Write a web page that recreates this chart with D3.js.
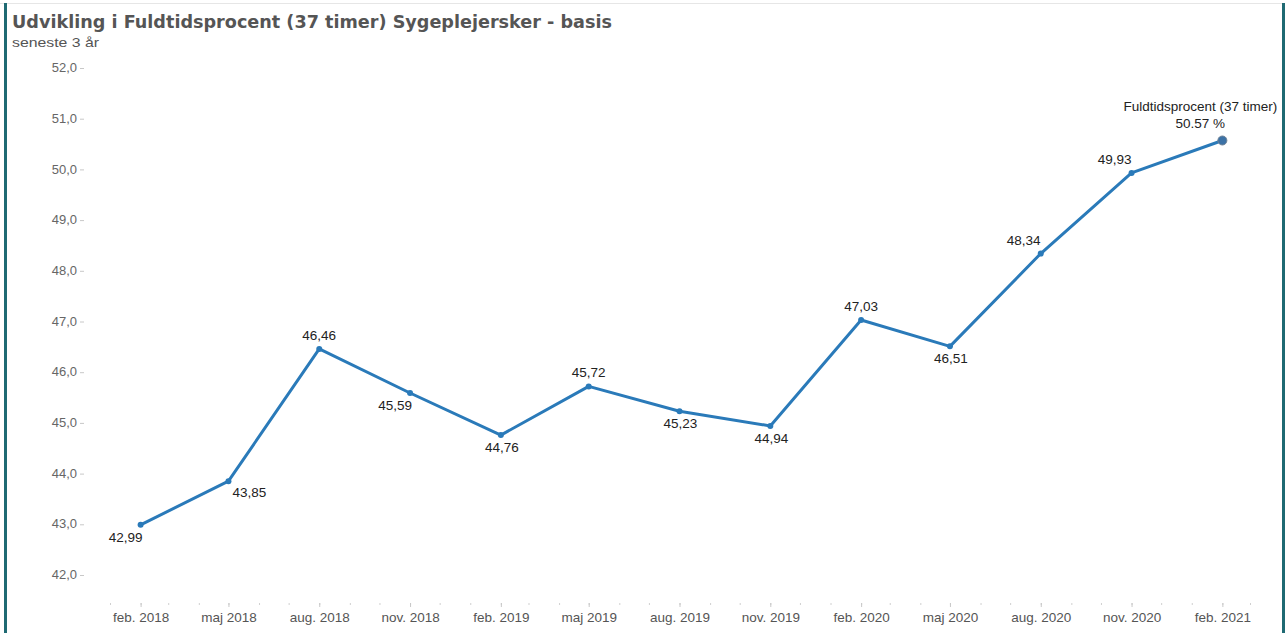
<!DOCTYPE html>
<html><head><meta charset="utf-8">
<script src="https://cdn.jsdelivr.net/npm/d3@7"></script>
<style>
html,body{margin:0;padding:0;background:#fff;overflow:hidden}
text{font-family:"Liberation Sans",Arial,sans-serif}
</style></head>
<body><svg id="c" width="1285" height="633"></svg>
<script>
const periods = ["2018-02","2018-05","2018-08","2018-11","2019-02","2019-05","2019-08","2019-11","2020-02","2020-05","2020-08","2020-11","2021-02"];
const tickLabels = ["feb. 2018","maj 2018","aug. 2018","nov. 2018","feb. 2019","maj 2019","aug. 2019","nov. 2019","feb. 2020","maj 2020","aug. 2020","nov. 2020","feb. 2021"];
const values = [42.99,43.85,46.46,45.59,44.76,45.72,45.23,44.94,47.03,46.51,48.34,49.93,50.57];
const yTicks = [42,43,44,45,46,47,48,49,50,51,52];
const labelSide = ["bl","br","t","bl","b","t","b","b","t","b","tl","tl","ann"];
const title = "Udvikling i Fuldtidsprocent (37 timer) Sygeplejersker - basis";
const subtitle = "seneste 3 år";
const annotationTitle = "Fuldtidsprocent (37 timer)";

const svg = d3.select("#c");
const parse = d3.timeParse("%Y-%m");
const dates = periods.map(parse);

// frame
svg.append("line").attr("x1",0).attr("x2",1285).attr("y1",3.5).attr("y2",3.5).attr("stroke","#e6e6e6").attr("stroke-width",1);
svg.append("rect").attr("x",4).attr("y",3).attr("width",3).attr("height",630).attr("fill","#1f6a73");
svg.append("rect").attr("x",1282).attr("y",3).attr("width",3).attr("height",630).attr("fill","#1f6a73");

// titles
const t = svg.append("text").attr("x",12).attr("y",28).attr("fill","#555")
  .style("font-family","'DejaVu Sans',Verdana,sans-serif").style("font-weight","bold").style("font-size","18px").text(title);
t.attr("textLength",600).attr("lengthAdjust","spacingAndGlyphs");
svg.append("text").attr("x",12).attr("y",47).attr("fill","#555").style("font-size","13px")
  .attr("textLength",87).attr("lengthAdjust","spacingAndGlyphs").text(subtitle);

const x = d3.scaleTime().domain([parse("2018-01"), parse("2021-03")]).range([110,1250]);
const y = d3.scaleLinear().domain([42,52]).range([575,68]);

// y axis
const fmt = v => d3.format(".1f")(v).replace(".",",");
const yAxis = svg.append("g").attr("transform","translate(84,0)")
  .call(d3.axisLeft(y).tickValues(yTicks).tickFormat(fmt).tickSize(4).tickPadding(3));
yAxis.select(".domain").remove();
yAxis.selectAll("line").attr("stroke","#c8c8c8");
yAxis.selectAll("text").attr("fill","#666").attr("dy","0.28em").style("font-size","13px").style("font-family","'Liberation Sans',Arial,sans-serif");

// x axis minor ticks
const months = d3.timeMonth.range(parse("2018-01"), parse("2021-04"));
const xMinor = svg.append("g").attr("transform","translate(0,603)")
  .call(d3.axisBottom(x).tickValues(months).tickSize(2).tickFormat(""));
xMinor.select(".domain").remove();
xMinor.selectAll("line").attr("stroke","#d0d0d0");
const xAxis = svg.append("g").attr("transform","translate(0,603)")
  .call(d3.axisBottom(x).tickValues(dates).tickSize(4).tickPadding(5).tickFormat((d,i)=>tickLabels[i]));
xAxis.select(".domain").remove();
xAxis.selectAll("line").attr("stroke","#c8c8c8");
xAxis.selectAll("text").attr("fill","#555").style("font-size","13.5px").style("font-family","'Liberation Sans',Arial,sans-serif");

// line
const data = dates.map((d,i)=>({d, v:values[i], s:labelSide[i]}));
svg.append("path").datum(data).attr("fill","none").attr("stroke","#2a7ab9").attr("stroke-width",3)
  .attr("stroke-linejoin","round")
  .attr("d", d3.line().x(p=>x(p.d)).y(p=>y(p.v)));
svg.selectAll("circle.pt").data(data.slice(0,-1)).join("circle").attr("class","pt")
  .attr("cx",p=>x(p.d)).attr("cy",p=>y(p.v)).attr("r",3).attr("fill","#2a7ab9");
const last = data[data.length-1];
svg.append("circle").attr("cx",x(last.d)).attr("cy",y(last.v)).attr("r",4.5)
  .attr("fill","#3c72a6").attr("stroke","#6f8296").attr("stroke-width",1);

// labels
const off = {bl:[-15,17],br:[21,16],t:[0,-9],b:[1,17],tl:[-17,-9]};
svg.selectAll("text.lbl").data(data.filter(p=>p.s!=="ann")).join("text").attr("class","lbl")
  .attr("x",p=>x(p.d)+off[p.s][0]).attr("y",p=>y(p.v)+off[p.s][1])
  .attr("text-anchor","middle").attr("fill","#222").style("font-size","13.5px")
  .text(p=>d3.format(".2f")(p.v).replace(".",","));
svg.append("text").attr("x",x(last.d)-22).attr("y",y(last.v)-30).attr("text-anchor","middle")
  .attr("fill","#222").style("font-size","13.5px").text(annotationTitle);
svg.append("text").attr("x",x(last.d)-22).attr("y",y(last.v)-13).attr("text-anchor","middle")
  .attr("fill","#222").style("font-size","13.5px").text(d3.format(".2f")(last.v)+" %");
</script></body></html>
